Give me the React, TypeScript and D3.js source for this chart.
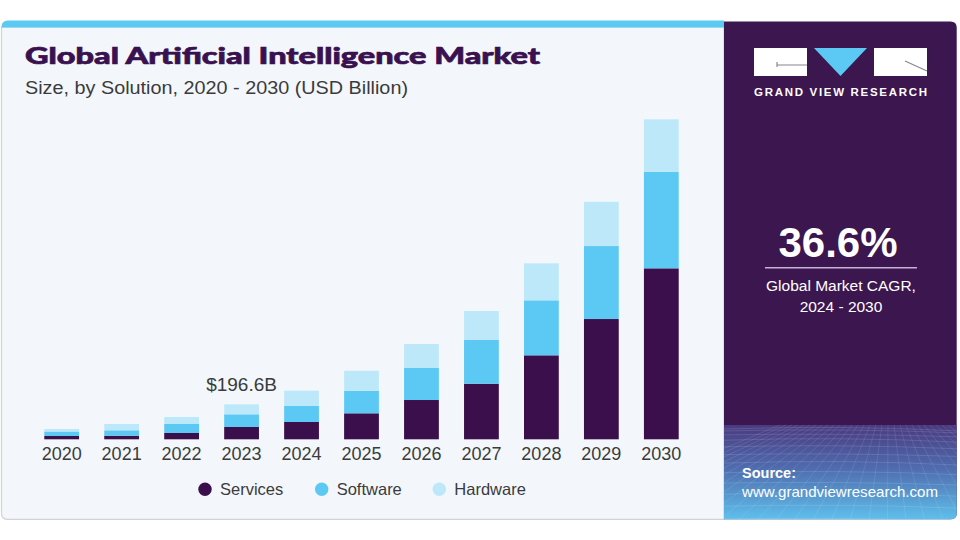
import React from 'react';
import * as d3 from 'd3';

const years = ['2020', '2021', '2022', '2023', '2024', '2025', '2026', '2027', '2028', '2029', '2030'];
const services = [18.5, 20.2, 35.4, 69.1, 97.2, 146.0, 220.7, 312.3, 471.8, 675.7, 960.5];
const software = [25.3, 30.3, 50.6, 71.3, 89.9, 126.9, 181.4, 245.5, 308.9, 410.0, 542.6];
const hardware = [14.0, 35.4, 39.3, 56.2, 85.9, 112.3, 133.1, 162.9, 207.8, 248.8, 294.3];
const seriesKeys = ['Services', 'Software', 'Hardware'];
const seriesColors = ['#3a0f4b', '#5bc9f4', '#bde8f9'];
const annotatedYear = '2023';
const annotationLabel = '$196.6B';

const W = 960;
const H = 540;
const font = '"Liberation Sans", Arial, sans-serif';

type Row = { year: string; Services: number; Software: number; Hardware: number };

const rows: Row[] = years.map((y, i) => ({
  year: y,
  Services: services[i],
  Software: software[i],
  Hardware: hardware[i],
}));

const App: React.FC = () => {
  const x = d3.scaleBand<string>().domain(years).range([31.7, 691.3]).paddingInner(0.42).paddingOuter(0.21);
  const y = d3.scaleLinear().domain([0, 1800]).range([439.3, 118.9]);

  const stack = d3.stack<Row>().keys(seriesKeys);
  const layers = stack(rows);

  const annIdx = years.indexOf(annotatedYear);
  const annTotal = services[annIdx] + software[annIdx] + hardware[annIdx];

  // decorative mesh at bottom of right panel
  const meshTop = 425;
  const meshBottom = 519;
  const hLines = d3.range(0, 12).map((i) => meshTop + 4 + Math.pow(i / 11, 1.6) * (meshBottom - meshTop - 4));
  const vLines = d3.range(-10, 22).map((i) => i);

  return (
    <svg width={W} height={H} style={{ position: 'absolute', left: 0, top: 0 }}>
      <defs>
        <linearGradient id="meshGrad" x1="0" y1="0" x2="0" y2="1">
          <stop offset="0%" stopColor="#4a3a80" />
          <stop offset="45%" stopColor="#4f6cae" />
          <stop offset="100%" stopColor="#5fc2ee" />
        </linearGradient>
        <clipPath id="rightClip">
          <path d="M724,21.5 H950.5 Q956.7,21.5 956.7,27.5 V513.5 Q956.7,519.3 950.5,519.3 H724 Z" />
        </clipPath>
      </defs>
      <rect width={W} height={H} fill="#ffffff" />

      {/* left panel */}
      <path
        d="M1.5,27 H724 V519.3 H7.5 Q1.5,519.3 1.5,513.3 Z"
        fill="#f3f7fb"
        stroke="#cfd3d8"
        strokeWidth={1.2}
      />
      <path d="M1.5,27 Q1.5,20.5 8,20.5 H724 V27.5 H1.5 Z" fill="#5bc9f1" />

      {/* right panel */}
      <g clipPath="url(#rightClip)">
        <rect x={724} y={20} width={240} height={510} fill="#3b164f" />
        <rect x={724} y={meshTop} width={240} height={meshBottom - meshTop + 2} fill="url(#meshGrad)" />
        {hLines.map((ly, i) => (
          <path
            key={'h' + i}
            d={`M724,${ly} Q840,${ly - 4 + (i % 3)} 960,${ly + 2}`}
            stroke="#ffffff"
            strokeOpacity={0.16}
            fill="none"
            strokeWidth={0.8}
          />
        ))}
        {vLines.map((i) => (
          <line
            key={'v' + i}
            x1={840 + i * 6}
            y1={meshTop}
            x2={840 + (i - 5.5) * 19}
            y2={meshBottom + 4}
            stroke="#ffffff"
            strokeOpacity={0.13}
            strokeWidth={0.8}
          />
        ))}
      </g>

      {/* logo */}
      <rect x={754} y={48} width={53} height={28} fill="#ffffff" />
      <path d="M777,62 V67 M777,65 H807" stroke="#8a8694" strokeWidth={1.2} fill="none" />
      <path d="M814,48 H867 L840.5,76 Z" fill="#5bc9f4" />
      <rect x={874} y={48} width={53} height={28} fill="#ffffff" />
      <path d="M905,61 L927,71" stroke="#8a8694" strokeWidth={1.2} fill="none" />
      <text
        x={840.5}
        y={95.5}
        textAnchor="middle"
        fill="#ffffff"
        fontFamily={font}
        fontWeight={700}
        fontSize={11.5}
        textLength={173}
        lengthAdjust="spacing"
      >
        GRAND VIEW RESEARCH
      </text>

      {/* CAGR */}
      <text x={838} y={256.7} textAnchor="middle" fill="#ffffff" fontFamily={font} fontWeight={700} fontSize={42}>
        36.6%
      </text>
      <line x1={765} x2={917} y1={267.7} y2={267.7} stroke="#c7b1d8" strokeWidth={1.5} />
      <text x={841} y={291} textAnchor="middle" fill="#ffffff" fontFamily={font} fontSize={15.5}>
        Global Market CAGR,
      </text>
      <text x={841} y={312} textAnchor="middle" fill="#ffffff" fontFamily={font} fontSize={15.5}>
        2024 - 2030
      </text>

      {/* source */}
      <text x={742} y={477.5} fill="#ffffff" fontFamily={font} fontWeight={700} fontSize={14.5}>
        Source:
      </text>
      <text x={742} y={497} fill="#ffffff" fontFamily={font} fontSize={14.5} textLength={196} lengthAdjust="spacingAndGlyphs">
        www.grandviewresearch.com
      </text>

      {/* titles */}
      <text
        x={25}
        y={64}
        fill="#3a1150"
        stroke="#3a1150"
        strokeWidth={0.7}
        fontFamily='Lato, "Liberation Sans", sans-serif'
        fontWeight={900}
        fontSize={23}
        textLength={515}
        lengthAdjust="spacingAndGlyphs"
      >
        Global Artificial Intelligence Market
      </text>
      <text
        x={25}
        y={94}
        fill="#3b3b3b"
        fontFamily={font}
        fontSize={18}
        textLength={383}
        lengthAdjust="spacingAndGlyphs"
      >
        Size, by Solution, 2020 - 2030 (USD Billion)
      </text>

      {/* bars */}
      {layers.map((layer, li) => (
        <g key={layer.key} fill={seriesColors[li]}>
          {layer.map((d) => (
            <rect
              key={d.data.year}
              x={x(d.data.year)}
              y={y(d[1])}
              width={x.bandwidth()}
              height={y(d[0]) - y(d[1])}
            />
          ))}
        </g>
      ))}

      {/* annotation */}
      <text
        x={(x(annotatedYear) ?? 0) + x.bandwidth() / 2}
        y={y(annTotal) - 13}
        textAnchor="middle"
        fill="#3b3b3b"
        fontFamily={font}
        fontSize={19}
      >
        {annotationLabel}
      </text>

      {/* x axis labels */}
      {years.map((yr) => (
        <text
          key={yr}
          x={(x(yr) ?? 0) + x.bandwidth() / 2}
          y={460}
          textAnchor="middle"
          fill="#3b3b3b"
          fontFamily={font}
          fontSize={18}
        >
          {yr}
        </text>
      ))}

      {/* legend */}
      {seriesKeys.map((k, i) => {
        const cx = [205, 321.7, 439.3][i];
        return (
          <g key={k}>
            <circle cx={cx} cy={489.3} r={6.7} fill={seriesColors[i]} />
            <text x={cx + 15} y={495} fill="#3b3b3b" fontFamily={font} fontSize={16.5}>
              {k}
            </text>
          </g>
        );
      })}
    </svg>
  );
};

export default App;
